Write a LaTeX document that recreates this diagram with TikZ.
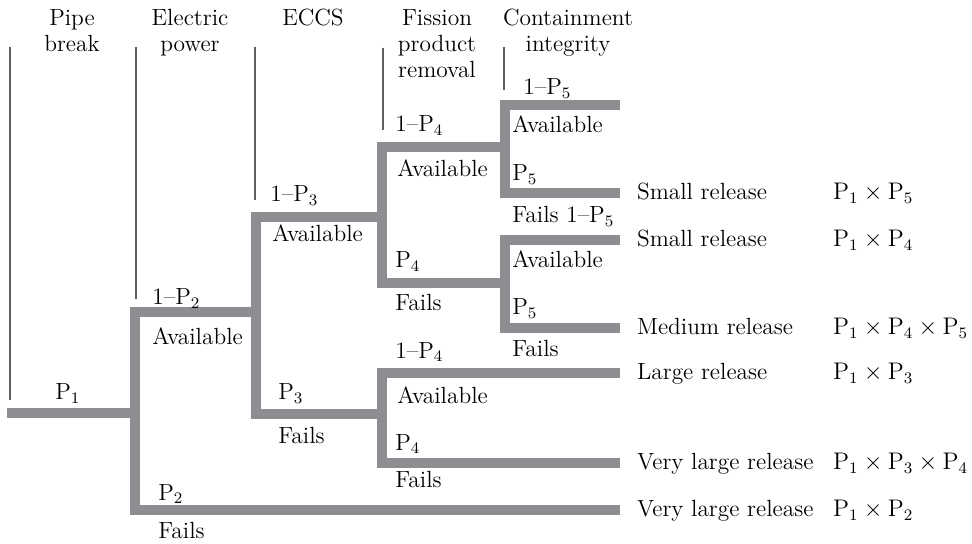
\documentclass[tikz,border=0pt]{standalone}
\usepackage{tikz}
\usetikzlibrary{positioning}
\definecolor{branchgray}{RGB}{141,142,146}
\definecolor{rulegray}{RGB}{95,95,95}
\tikzstyle{branch} = [line width=5pt, draw=branchgray, line join=miter, line cap=butt]
\tikzstyle{divider} = [line width=0.8pt, draw=rulegray]
\tikzstyle{heading} = [align=center, anchor=north, inner sep=0pt]
\tikzstyle{lbl} = [anchor=base west, inner sep=0pt]
\tikzstyle{result} = [text height=1.8ex, text depth=0.2ex, inner sep=0.3333em]

\begin{document}
\begin{tikzpicture}[x=0.5pt, y=-0.5pt, font=\fontsize{11.7}{13}\selectfont]
    \useasboundingbox (0,0) rectangle (972,544);

    % column headings
    \node (pipe) [heading] at (72,9) {Pipe\\break};
    \node (power) [heading] at (190,9) {Electric\\power};
    \node (eccs) [heading] at (313,9) {ECCS};
    \node (removal) [heading] at (437,9) {Fission\\product\\removal};
    \node (contain) [heading] at (568,9) {Containment\\integrity};

    \draw [divider] (10,47) -- (10,400);
    \draw [divider] (136,47) -- (136,299);
    \draw [divider] (255,47) -- (255,200);
    \draw [divider] (383,48) -- (383,130);
    \draw [divider] (504,47) -- (504,90);

    % branch points
    \coordinate (init) at (7,413);
    \coordinate (pb) at (135,413);
    \coordinate (ep) at (256,312);
    \coordinate (eccs1) at (382,217);
    \coordinate (eccs2) at (382,414);
    \coordinate (fp1) at (505,147);
    \coordinate (fp2) at (505,283);
    \coordinate (out1) at (620,105);
    \coordinate (out2) at (620,193);
    \coordinate (out3) at (620,240);
    \coordinate (out4) at (620,328);
    \coordinate (out5) at (620,373);
    \coordinate (out6) at (620,463);
    \coordinate (out7) at (620,510);
    \coordinate (prod) at (826,0);

    \draw [branch] (init) -- (pb);
    \draw [branch] (ep) -| (pb) |- (out7);
    \draw [branch] (eccs1) -| (ep) |- (eccs2);
    \draw [branch] (fp1) -| (eccs1) |- (fp2);
    \draw [branch] (out5) -| (eccs2) |- (out6);
    \draw [branch] (out1) -| (fp1) |- (out2);
    \draw [branch] (out3) -| (fp2) |- (out4);

    % branch labels
    \node (p1) [lbl] at (55,400) {P$_1$};
    \node (ep-yes) [lbl] at (152,305) {1--P$_2$};
    \node (ep-ok) [lbl] at (152,345) {Available};
    \node (ep-no) [lbl] at (158,500) {P$_2$};
    \node (ep-fail) [lbl] at (158,538) {Fails};
    \node (eccs-yes) [lbl] at (270,202) {1--P$_3$};
    \node (eccs-ok) [lbl] at (272,242) {Available};
    \node (eccs-no) [lbl] at (278,400) {P$_3$};
    \node (eccs-fail) [lbl] at (278,443) {Fails};
    \node (fpa-yes) [lbl] at (395,132) {1--P$_4$};
    \node (fpa-ok) [lbl] at (397,177) {Available};
    \node (fpa-no) [lbl] at (395,268) {P$_4$};
    \node (fpa-fail) [lbl] at (395,311) {Fails};
    \node (fpb-yes) [lbl] at (395,358) {1--P$_4$};
    \node (fpb-ok) [lbl] at (397,403) {Available};
    \node (fpb-no) [lbl] at (395,450) {P$_4$};
    \node (fpb-fail) [lbl] at (395,487) {Fails};
    \node (cia-yes) [lbl] at (523,95) {1--P$_5$};
    \node (cia-ok) [lbl] at (512,133) {Available};
    \node (cia-no) [lbl] at (512,181) {P$_5$};
    \node (cia-fail) [lbl] at (512,223) {Fails 1--P$_5$};
    \node (cib-ok) [lbl] at (512,268) {Available};
    \node (cib-no) [lbl] at (512,315) {P$_5$};
    \node (cib-fail) [lbl] at (512,357) {Fails};

    % outcomes
    \node (rel1) [result, right=5pt of out2] {Small release};
    \node (rel2) [result, right=5pt of out3] {Small release};
    \node (rel3) [result, right=5pt of out4] {Medium release};
    \node (rel4) [result, right=5pt of out5] {Large release};
    \node (rel5) [result, right=5pt of out6] {Very large release};
    \node (rel6) [result, right=5pt of out7] {Very large release};
    \node (freq1) [result, anchor=west] at (prod |- out2) {$\mathrm{P}_1 \times \mathrm{P}_5$};
    \node (freq2) [result, anchor=west] at (prod |- out3) {$\mathrm{P}_1 \times \mathrm{P}_4$};
    \node (freq3) [result, anchor=west] at (prod |- out4) {$\mathrm{P}_1 \times \mathrm{P}_4 \times \mathrm{P}_5$};
    \node (freq4) [result, anchor=west] at (prod |- out5) {$\mathrm{P}_1 \times \mathrm{P}_3$};
    \node (freq5) [result, anchor=west] at (prod |- out6) {$\mathrm{P}_1 \times \mathrm{P}_3 \times \mathrm{P}_4$};
    \node (freq6) [result, anchor=west] at (prod |- out7) {$\mathrm{P}_1 \times \mathrm{P}_2$};

\end{tikzpicture}
\end{document}
